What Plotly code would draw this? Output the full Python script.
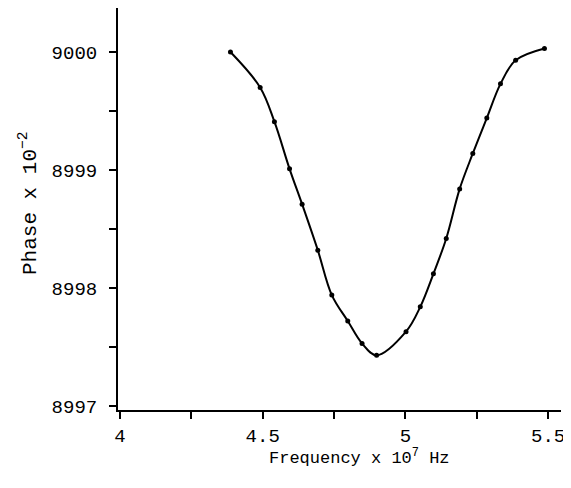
import plotly.graph_objects as go

# Data
freq = [4.387, 4.491, 4.541, 4.594, 4.638, 4.693, 4.742, 4.798, 4.848, 4.899,
        5.002, 5.052, 5.098, 5.143, 5.190, 5.236, 5.285, 5.333, 5.386, 5.487]
phase = [9000.00, 8999.70, 8999.41, 8999.01, 8998.71, 8998.32, 8997.94, 8997.72, 8997.53, 8997.43,
         8997.63, 8997.84, 8998.12, 8998.42, 8998.84, 8999.14, 8999.44, 8999.73, 8999.93, 9000.03]

x_tickvals = [4, 4.25, 4.5, 4.75, 5, 5.25, 5.5]
x_ticktext = ["4", "", "4.5", "", "5", "", "5.5"]
y_tickvals = [8997, 8997.5, 8998, 8998.5, 8999, 8999.5, 9000]
y_ticktext = ["8997", "", "8998", "", "8999", "", "9000"]

FONT = "Liberation Mono, DejaVu Sans Mono, monospace"

# The page body adds an 8px offset, so the figure is sized to fit the window.
W, H = 563, 480
L, R, T, B = 110, 10, 0, 78
PW, PH = W - L - R, H - T - B

fig = go.Figure()
fig.add_trace(go.Scatter(
    x=freq, y=phase, mode="lines+markers",
    line=dict(color="black", width=2, shape="spline", smoothing=1.0),
    marker=dict(color="black", size=5),
    showlegend=False, hoverinfo="skip",
))

fig.update_layout(
    width=W, height=H,
    margin=dict(l=L, r=R, t=T, b=B),
    paper_bgcolor="white", plot_bgcolor="white",
    font=dict(family=FONT, color="black", size=19),
    xaxis=dict(
        range=[3.993, 5.545], showgrid=False, zeroline=False,
        showline=True, linecolor="black", linewidth=2,
        tickvals=x_tickvals, ticktext=x_ticktext,
        ticks="outside", ticklen=7, tickwidth=1.5, tickcolor="black",
        tickfont=dict(family=FONT, size=19),
    ),
    yaxis=dict(
        range=[8996.966, 9000.373], showgrid=False, zeroline=False,
        showline=True, linecolor="black", linewidth=2,
        tickvals=y_tickvals, ticktext=y_ticktext,
        ticks="outside", ticklen=7, tickwidth=1.5, tickcolor="black",
        tickfont=dict(family=FONT, size=19),
        ticklabelstandoff=8,
    ),
    annotations=[
        dict(text="Frequency x 10<sup>7</sup> Hz", xref="paper", yref="paper",
             x=(351 - L) / PW, y=-(449 - (T + PH)) / PH, xanchor="center", yanchor="middle",
             showarrow=False, font=dict(family=FONT, size=17)),
        dict(text="Phase x 10<sup>\u22122</sup>", xref="paper", yref="paper",
             x=-(L - 21) / PW, y=((T + PH) - 195) / PH, xanchor="center", yanchor="middle",
             textangle=-90, showarrow=False, font=dict(family=FONT, size=21)),
    ],
)

fig.write_html("out.html")
